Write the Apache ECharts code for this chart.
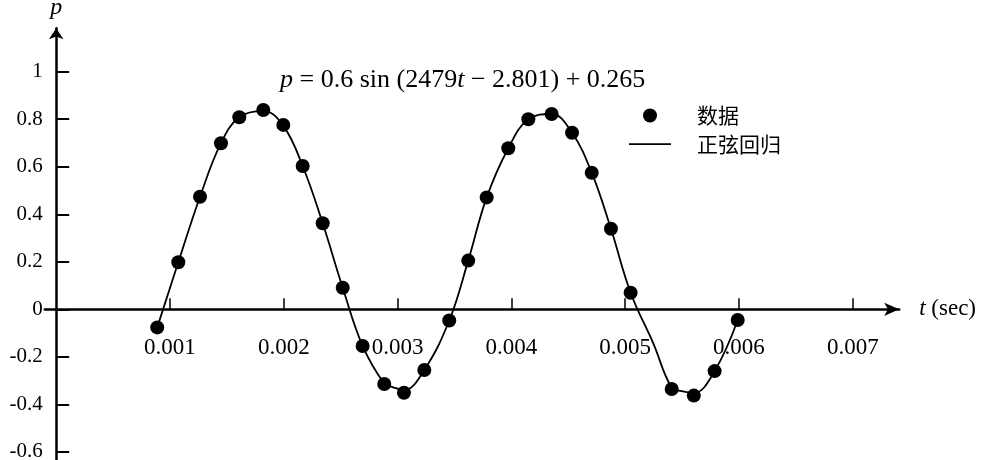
<!DOCTYPE html>
<html>
<head>
<meta charset="utf-8">
<script src="https://cdn.jsdelivr.net/npm/echarts@6/dist/echarts.min.js"></script>
<style>html,body{margin:0;padding:0;background:#fff;}#c{width:986px;height:460px;}</style>
</head>
<body>
<div id="c"></div>
<script>
// Measured data points (t in seconds, p)
const dataT = [0.000888,0.001073,0.001264,0.001448,0.001609,0.001820,0.001996,0.002166,0.002342,0.002518,
               0.002693,0.002883,0.003056,0.003235,0.003454,0.003621,0.003783,0.003973,0.004149,0.004354,
               0.004533,0.004706,0.004875,0.005048,0.005409,0.005603,0.005786,0.005989];
const dataP = [-0.076,0.198,0.474,0.699,0.808,0.839,0.776,0.603,0.362,0.091,
               -0.154,-0.314,-0.351,-0.255,-0.047,0.205,0.471,0.678,0.800,0.822,
               0.743,0.575,0.339,0.070,-0.335,-0.363,-0.260,-0.045];
// Points
const curveT = [0.000888,0.001073,0.001264,0.001448,0.001609,0.001820,0.001996,0.002166,0.002342,0.002518,
                0.002693,0.002883,0.002963,0.003056,0.003235,0.003454,0.003621,0.003783,0.003973,0.004149,
                0.004354,0.004533,0.004706,0.004875,0.005048,0.005247,0.005409,0.005497,0.005603,0.005786,0.005989];
const curveP = [-0.076,0.198,0.474,0.699,0.808,0.835,0.772,0.603,0.362,0.091,
                -0.154,-0.312,-0.328,-0.340,-0.255,-0.047,0.205,0.471,0.678,0.800,
                0.822,0.743,0.575,0.339,0.070,-0.143,-0.330,-0.344,-0.352,-0.260,-0.045];
const xTicks = [0.001,0.002,0.003,0.004,0.005,0.006,0.007];
const yTicks = [-0.6,-0.4,-0.2,0,0.2,0.4,0.6,0.8,1];
const seriesNames = ['数据','正弦回归'];

const serif = 'Liberation Serif';
const chart = echarts.init(document.getElementById('c'));
chart.setOption({
  animation: false,
  backgroundColor: '#fff',
  grid: { left: 44.8, right: 86.8, top: 28.2, bottom: 0, containLabel: false, outerBoundsMode: 'none' },
  xAxis: {
    type: 'value', min: -0.0001, max: 0.007408, offset: 0,
    splitLine: { show: false },
    axisLine: { onZero: false, symbol: ['none','arrow'], symbolSize: [10,15], lineStyle: { color: '#000', width: 2.5 } },
    axisTick: { show: true, inside: true, length: 11, customValues: xTicks, lineStyle: { color: '#000', width: 1.5 } },
    axisLabel: { customValues: xTicks, margin: 27, color: '#000', fontFamily: serif, fontSize: 23,
                 formatter: v => v.toFixed(3) },
    name: '{i|t} (sec)', nameLocation: 'end', nameGap: 20,
    nameTextStyle: { fontFamily: serif, fontSize: 23, color: '#000', rich: { i: { fontFamily: serif, fontStyle: 'italic', fontSize: 23, color: '#000' } } }
  },
  yAxis: {
    type: 'value', min: -0.634, max: 1.183,
    splitLine: { show: false },
    axisLine: { onZero: true, symbol: ['none','arrow'], symbolSize: [11,11], lineStyle: { color: '#000', width: 2.5 } },
    axisTick: { show: true, inside: true, length: 13, customValues: yTicks, lineStyle: { color: '#000', width: 2 } },
    axisLabel: { customValues: yTicks, margin: 2, color: '#000', fontFamily: serif, fontSize: 21,
                 formatter: v => String(Math.round(v*10)/10) },
    name: 'p', nameLocation: 'end', nameGap: 9,
    nameTextStyle: { fontFamily: serif, fontStyle: 'italic', fontSize: 24, color: '#000', align: 'center' }
  },
  legend: {
    orient: 'vertical', left: 624, top: 100, itemWidth: 42, itemHeight: 14, itemGap: 7.6,
    textStyle: { fontFamily: 'Noto Sans CJK SC', fontSize: 21, color: '#000', lineHeight: 21, padding: [0,0,0,21] },
    data: [
      { name: seriesNames[0], icon: 'circle', itemStyle: { color: '#000', opacity: 1 } },
      { name: seriesNames[1], icon: 'path://M0,0L42,0L42,1.6L0,1.6Z', itemStyle: { color: '#000' } }
    ]
  },
  graphic: [{
    type: 'text', left: 280, top: 67,
    style: {
      text: '{i|p} = 0.6 sin (2479{i|t} − 2.801) + 0.265',
      fontFamily: serif, fontSize: 26, fill: '#000',
      rich: { i: { fontFamily: serif, fontStyle: 'italic', fontSize: 26, fill: '#000' } }
    }
  }],
  series: [
    {
      name: seriesNames[1], type: 'line', smooth: 0.4, symbol: 'none', showSymbol: false,
      lineStyle: { color: '#000', width: 1.8 }, itemStyle: { color: '#000' },
      data: curveT.map((t, i) => [t, curveP[i]]), z: 2
    },
    {
      name: seriesNames[0], type: 'scatter', symbol: 'circle', symbolSize: 14,
      itemStyle: { color: '#000', opacity: 1 },
      data: dataT.map((t, i) => [t, dataP[i]]), z: 3
    }
  ]
});
// Move the x axis (with its labels) to p = 0, using the library's own y scale
const zeroY = chart.convertToPixel({ yAxisIndex: 0 }, 0);
chart.setOption({ xAxis: { offset: zeroY - chart.getHeight() } });
</script>
</body>
</html>
